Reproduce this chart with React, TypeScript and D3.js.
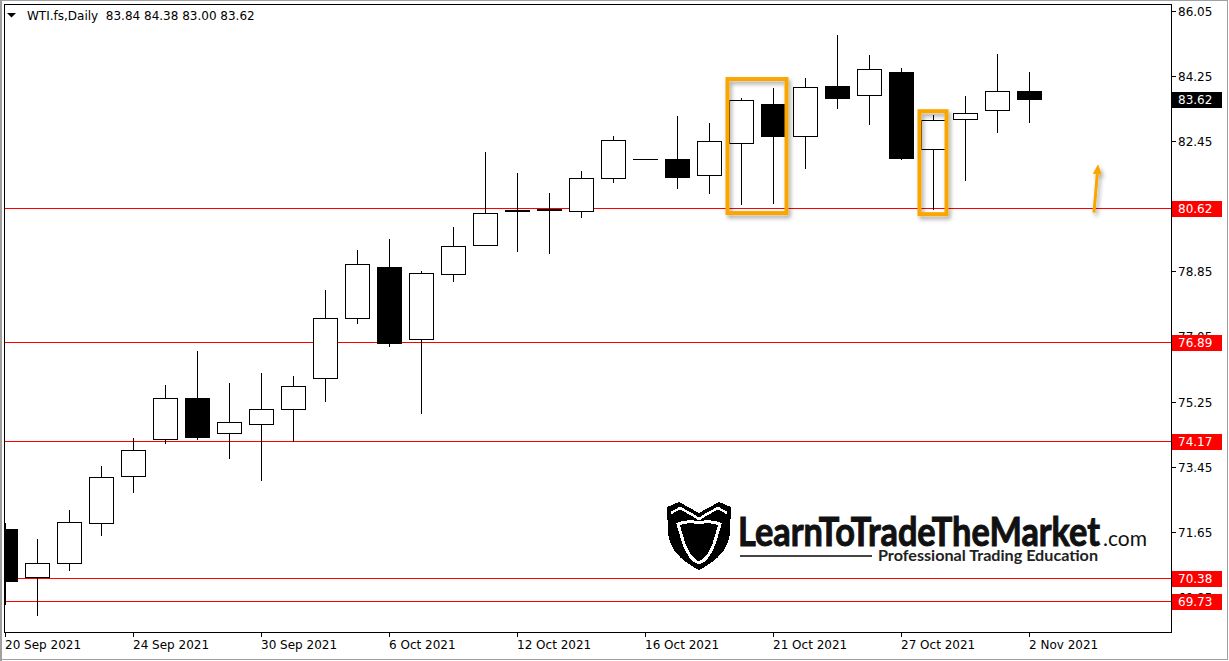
import * as d3 from 'd3'

// WTI.fs daily bars, 20 Sep – 2 Nov 2021
const DATES = [
  '2021-09-20', '2021-09-21', '2021-09-22', '2021-09-23', '2021-09-24',
  '2021-09-27', '2021-09-28', '2021-09-29', '2021-09-30', '2021-10-01',
  '2021-10-04', '2021-10-05', '2021-10-06', '2021-10-07', '2021-10-08',
  '2021-10-11', '2021-10-12', '2021-10-13', '2021-10-14', '2021-10-15',
  '2021-10-16', '2021-10-18', '2021-10-19', '2021-10-20', '2021-10-21',
  '2021-10-22', '2021-10-25', '2021-10-26', '2021-10-27', '2021-10-28',
  '2021-10-29', '2021-11-01', '2021-11-02',
]
const OPEN = [
  71.71, 70.40, 70.79, 71.90, 73.20, 74.20, 75.36, 74.37, 74.64, 75.03,
  75.89, 77.55, 78.96, 76.97, 78.77, 79.57, 80.56, 80.59, 80.51, 81.43,
  81.96, 81.96, 81.51, 82.40, 83.49, 82.59, 83.99, 83.73, 84.37, 82.23,
  83.06, 83.31, 83.84,
]
const HIGH = [
  71.88, 71.44, 72.24, 73.46, 74.24, 75.70, 76.65, 75.76, 76.04, 75.95,
  78.34, 79.44, 79.74, 78.86, 80.08, 82.16, 81.58, 81.02, 81.63, 82.60,
  81.96, 83.16, 82.96, 83.64, 83.93, 84.21, 85.40, 84.84, 84.48, 83.18,
  83.71, 84.87, 84.38,
]
const LOW = [
  69.66, 69.33, 70.58, 71.56, 72.75, 74.11, 74.20, 73.69, 73.08, 74.15,
  75.27, 77.43, 76.79, 74.92, 78.59, 79.57, 79.42, 79.37, 80.35, 81.33,
  81.96, 81.17, 81.03, 80.73, 80.75, 81.72, 83.36, 82.94, 81.97, 80.57,
  81.39, 82.72, 83.00,
]
const CLOSE = [
  70.28, 70.79, 71.93, 73.17, 73.92, 75.36, 74.27, 74.67, 75.03, 75.67,
  77.55, 79.05, 76.86, 78.80, 79.55, 80.46, 80.51, 80.54, 81.43, 82.48,
  81.96, 81.47, 82.45, 83.59, 82.61, 83.95, 83.66, 84.45, 82.00, 83.04,
  83.23, 83.84, 83.62,
]

const PRICE_TICKS = [86.05, 84.25, 82.45, 80.65, 78.85, 77.05, 75.25, 73.45, 71.65, 69.85]
const LEVELS = [80.62, 76.89, 74.17, 70.38, 69.73]
const DATE_TICK_EVERY = 4

// orange highlight boxes: bar range and price range
const HIGHLIGHTS = [
  { from: 23, to: 24, top: 84.23, bottom: 80.41 },
  { from: 29, to: 29, top: 83.34, bottom: 80.38 },
]
const ARROW = { fromBar: 34.03, fromPrice: 80.48, toBar: 34.16, toPrice: 81.82 }

const W = 1229
const H = 661
const FRAME = { left: 4.5, top: 4.5, right: 1171.5, bottom: 632.5 }
const FONT = '"DejaVu Sans", Tahoma, sans-serif'
const ORANGE = '#f9a602'

const fmtDate = d3.timeFormat('%-d %b %Y')
const parse = d3.timeParse('%Y-%m-%d')

function Logo() {
  return (
    <g>
      <g transform="translate(666,502)">
        <path d="M1,5 L13,0 L24,6 L33,11 L42,6 L53,0 L65,5 L64,30 Q63,53 33,68 Q3,53 2,30 Z" fill="#000" />
        <path d="M5,11 L14,6 L25,12 L33,17 L41,12 L52,6 L61,11" fill="none" stroke="#fff" strokeWidth={2.5} />
        <path d="M12,22 Q22,18 33,21 Q44,18 54,22 L48,42 Q42,58 33,61 Q24,58 18,42 Z" fill="#000" stroke="#fff" strokeWidth={3} />
      </g>
      <text x={738} y={546} fontFamily="Lato, 'Open Sans', sans-serif" fontWeight={700} fontSize={40}
        textLength={362} lengthAdjust="spacingAndGlyphs" fill="#111" stroke="#111" strokeWidth={1}>LearnToTradeTheMarket</text>
      <text x={1103} y={546} fontFamily="Lato, 'Open Sans', sans-serif" fontSize={22}
        textLength={44} lengthAdjust="spacingAndGlyphs" fill="#111">.com</text>
      <line x1={740} x2={872} y1={556} y2={556} stroke="#444" strokeWidth={1.5} />
      <text x={878} y={561} fontFamily="Lato, 'Open Sans', sans-serif" fontWeight={700} fontSize={15}
        textLength={220} lengthAdjust="spacingAndGlyphs" fill="#222">Professional Trading Education</text>
    </g>
  )
}

export default function App() {
  const n = DATES.length
  const x = d3.scaleLinear().domain([0, n - 1]).range([5, 5 + 32 * (n - 1)])
  const y = d3.scaleLinear().domain([69.73, 80.62]).range([601, 207.5])
  const yr = (v: number) => Math.round(y(v))

  const candles = DATES.map((d, i) => {
    const o = OPEN[i], h = HIGH[i], l = LOW[i], c = CLOSE[i]
    const cx = Math.round(x(i))
    const top = yr(Math.max(o, c))
    const bot = yr(Math.min(o, c))
    const bull = c >= o
    return (
      <g key={d}>
        <rect x={cx} y={yr(h)} width={1} height={yr(l) - yr(h) + 1} fill="#000" />
        {bot - top < 1 ? (
          <rect x={cx - 12} y={top} width={25} height={1} fill="#000" />
        ) : bull ? (
          <rect x={cx - 11.5} y={top + 0.5} width={24} height={bot - top} fill="#fff" stroke="#000" strokeWidth={1} />
        ) : (
          <rect x={cx - 12} y={top} width={25} height={bot - top + 1} fill="#000" />
        )}
      </g>
    )
  })

  // arrow geometry
  const ax0 = x(ARROW.fromBar), ay0 = y(ARROW.fromPrice)
  const ax1 = x(ARROW.toBar), ay1 = y(ARROW.toPrice)
  const len = Math.hypot(ax1 - ax0, ay1 - ay0)
  const ux = (ax1 - ax0) / len, uy = (ay1 - ay0) / len
  const bx = ax1 - ux * 10, by = ay1 - uy * 10
  const head = `${ax1},${ay1} ${bx - uy * 4.5},${by + ux * 4.5} ${bx + uy * 4.5},${by - ux * 4.5}`

  const last = CLOSE[n - 1]

  return (
    <svg width={W} height={H} style={{ position: 'absolute', left: 0, top: 0, background: '#fff' }}
      shapeRendering="crispEdges">
      <defs>
        <clipPath id="plot">
          <rect x={5} y={5} width={FRAME.right - 5.5} height={FRAME.bottom - 5.5} />
        </clipPath>
        <filter id="shadow" x="-20%" y="-20%" width="140%" height="140%">
          <feDropShadow dx={2} dy={3} stdDeviation={2} floodColor="#000" floodOpacity={0.35} />
        </filter>
      </defs>

      <rect x={0} y={0} width={W} height={H} fill="#fff" />
      <rect x={1} y={0.5} width={W - 2.5} height={H - 2} fill="none" stroke="#a0a0a0" strokeWidth={1} />
      <line x1={1} x2={1} y1={0} y2={H} stroke="#a0a0a0" strokeWidth={2} />

      <g clipPath="url(#plot)">
        <Logo />
        {LEVELS.map((v) => (
          <line key={v} x1={FRAME.left} x2={FRAME.right} y1={yr(v) + 0.5} y2={yr(v) + 0.5} stroke="#ff0000" strokeWidth={1} />
        ))}
        {candles}
        <g filter="url(#shadow)" shapeRendering="auto">
          {HIGHLIGHTS.map((b, i) => {
            const left = x(b.from) - 15.5
            const right = x(b.to) + 15.5
            const top = y(b.top)
            const bottom = y(b.bottom)
            return (
              <rect key={i} x={left + 2} y={top + 2} width={right - left - 4} height={bottom - top - 4}
                fill="none" stroke={ORANGE} strokeWidth={4} />
            )
          })}
          <line x1={ax0} y1={ay0} x2={bx} y2={by} stroke={ORANGE} strokeWidth={3} />
          <polygon points={head} fill={ORANGE} />
        </g>
      </g>

      <rect x={FRAME.left} y={FRAME.top} width={FRAME.right - FRAME.left} height={FRAME.bottom - FRAME.top}
        fill="none" stroke="#000" strokeWidth={1} />

      {/* title */}
      <polygon points="7,13 16,13 11.5,17.5" fill="#000" shapeRendering="auto" />
      <text x={27} y={20} fontFamily={FONT} fontSize={12} fill="#000" style={{ whiteSpace: 'pre' }}>
        {`WTI.fs,Daily  ${OPEN[n - 1].toFixed(2)} ${HIGH[n - 1].toFixed(2)} ${LOW[n - 1].toFixed(2)} ${CLOSE[n - 1].toFixed(2)}`}
      </text>

      {/* price axis */}
      {PRICE_TICKS.map((v) => (
        <g key={v}>
          <line x1={FRAME.right} x2={FRAME.right + 4} y1={yr(v) + 0.5} y2={yr(v) + 0.5} stroke="#000" />
          <text x={1178} y={yr(v) + 4.5} fontFamily={FONT} fontSize={12} fill="#000">{v.toFixed(2)}</text>
        </g>
      ))}
      {LEVELS.map((v) => (
        <g key={v}>
          <rect x={1172} y={yr(v) - 7} width={50} height={16} fill="#ff0000" />
          <text x={1178} y={yr(v) + 5} fontFamily={FONT} fontSize={12} fill="#fff">{v.toFixed(2)}</text>
        </g>
      ))}
      <rect x={1172} y={yr(last) - 7} width={50} height={16} fill="#000" />
      <text x={1178} y={yr(last) + 5} fontFamily={FONT} fontSize={12} fill="#fff">{last.toFixed(2)}</text>

      {/* date axis */}
      {DATES.map((d, i) => (i % DATE_TICK_EVERY === 0 ? (
        <g key={d}>
          <line x1={Math.round(x(i)) + 0.5} x2={Math.round(x(i)) + 0.5} y1={FRAME.bottom} y2={FRAME.bottom + 4} stroke="#000" />
          <text x={Math.round(x(i))} y={649} fontFamily={FONT} fontSize={12} fill="#000">{fmtDate(parse(d)!)}</text>
        </g>
      ) : null))}
    </svg>
  )
}
